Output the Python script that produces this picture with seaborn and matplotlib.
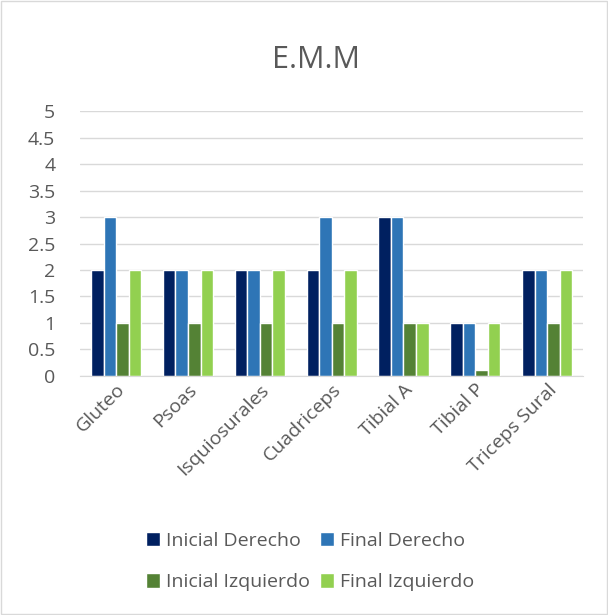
import pandas as pd
import matplotlib.pyplot as plt
import seaborn as sns

# Datos del grafico E.M.M
musculos = ['Gluteo', 'Psoas', 'Isquiosurales', 'Cuadriceps', 'Tibial A', 'Tibial P', 'Triceps Sural']
inicial_derecho = [2, 2, 2, 2, 3, 1, 2]
final_derecho = [3, 2, 2, 3, 3, 1, 2]
inicial_izquierdo = [1, 1, 1, 1, 1, 0.1, 1]
final_izquierdo = [2, 2, 2, 2, 1, 1, 2]

series = ['Inicial Derecho', 'Final Derecho', 'Inicial Izquierdo', 'Final Izquierdo']
colores = ['#002060', '#2E75B6', '#548235', '#92D050']

df = pd.DataFrame({
    'Musculo': musculos * 4,
    'Serie': [s for s in series for _ in musculos],
    'Valor': inicial_derecho + final_derecho + inicial_izquierdo + final_izquierdo,
})

sns.set_style('white')
plt.rcParams['font.family'] = ['Open Sans', 'DejaVu Sans']
texto = '#595959'

fig = plt.figure(figsize=(6.08, 6.15), dpi=100)
ax = fig.add_axes([0.132, 0.389, 0.827, 0.43])

ax.yaxis.grid(True, color='#D9D9D9', linewidth=1)
ax.set_axisbelow(True)
sns.barplot(data=df, x='Musculo', y='Valor', hue='Serie', palette=colores, saturation=1,
            width=0.70, edgecolor='white', linewidth=1, ax=ax)

ax.set_ylim(0, 5)
ax.set_yticks([0, 0.5, 1, 1.5, 2, 2.5, 3, 3.5, 4, 4.5, 5])
ax.set_yticklabels(['0', '0.5', '1', '1.5', '2', '2.5', '3', '3.5', '4', '4.5', '5'])
ax.set_xlim(-0.5, 6.5)
ax.set_xlabel('')
ax.set_ylabel('')
ax.tick_params(axis='both', length=0, labelsize=14, colors=texto)
ax.tick_params(axis='y', pad=18)
plt.setp(ax.get_xticklabels(), rotation=45, ha='right', rotation_mode='anchor')
for s in ['top', 'right', 'left']:
    ax.spines[s].set_visible(False)
ax.spines['bottom'].set_color('#D9D9D9')

fig.text(0.52, 0.903, 'E.M.M', ha='center', va='center', fontsize=22, color=texto)

handles, labels = ax.get_legend_handles_labels()
ax.get_legend().remove()
orden = [0, 2, 1, 3]
fig.legend([handles[i] for i in orden], [labels[i] for i in orden], loc='center',
           bbox_to_anchor=(0.51, 0.087), ncol=2, frameon=False, fontsize=14,
           labelcolor=texto, handlelength=0.75, handleheight=0.75, handletextpad=0.3,
           columnspacing=0.5, labelspacing=1.2)

fig.patches.append(plt.Rectangle((0.002, 0.002), 0.996, 0.996, transform=fig.transFigure,
                                 fill=False, edgecolor='#D9D9D9', linewidth=1))

fig.savefig('out.png', dpi=100)
